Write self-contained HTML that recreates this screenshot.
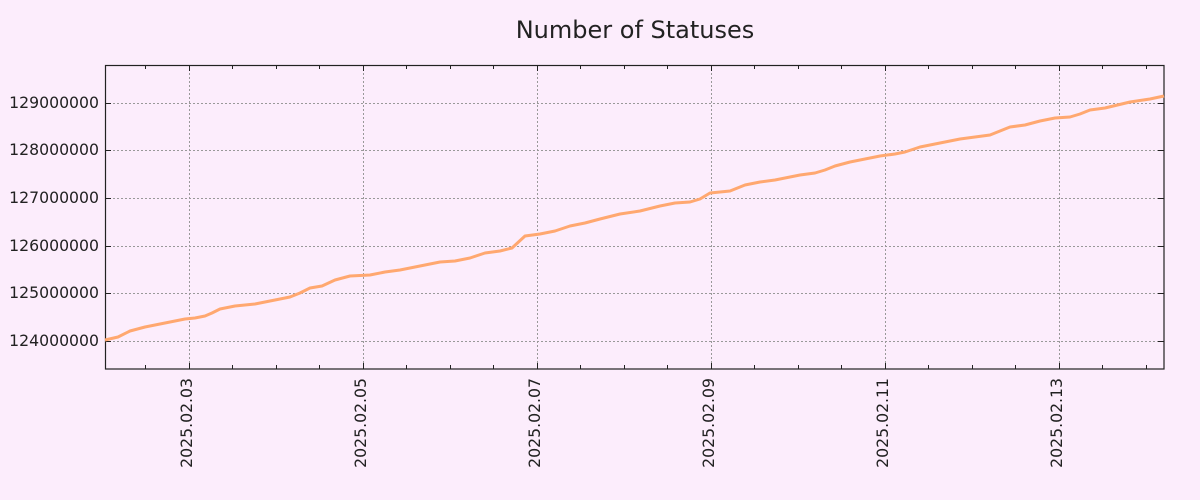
<!DOCTYPE html>
<html><head><meta charset="utf-8"><style>
body{margin:0;background:#fcedfc;}
svg{display:block;font-family:"DejaVu Sans","Liberation Sans",sans-serif;}
</style></head><body>
<svg width="1200" height="500" viewBox="0 0 1200 500">
<rect width="1200" height="500" fill="#fcedfc"/>
<text x="635" y="38" text-anchor="middle" font-size="24" fill="#222">Number of Statuses</text>
<g stroke="#999" stroke-dasharray="2,2" stroke-width="1">
<line x1="105" x2="1164" y1="103.5" y2="103.5"/>
<line x1="105" x2="1164" y1="150.5" y2="150.5"/>
<line x1="105" x2="1164" y1="198.5" y2="198.5"/>
<line x1="105" x2="1164" y1="246.5" y2="246.5"/>
<line x1="105" x2="1164" y1="293.5" y2="293.5"/>
<line x1="105" x2="1164" y1="341.5" y2="341.5"/>
<line x1="189.5" x2="189.5" y1="65" y2="369"/>
<line x1="363.5" x2="363.5" y1="65" y2="369"/>
<line x1="537.5" x2="537.5" y1="65" y2="369"/>
<line x1="711.5" x2="711.5" y1="65" y2="369"/>
<line x1="885.5" x2="885.5" y1="65" y2="369"/>
<line x1="1059.5" x2="1059.5" y1="65" y2="369"/>
</g>
<g stroke="#222" stroke-width="1">
<path d="M145.5 65v4M145.5 369v-4M232.5 65v4M232.5 369v-4M276.5 65v4M276.5 369v-4M319.5 65v4M319.5 369v-4M406.5 65v4M406.5 369v-4M450.5 65v4M450.5 369v-4M493.5 65v4M493.5 369v-4M580.5 65v4M580.5 369v-4M624.5 65v4M624.5 369v-4M667.5 65v4M667.5 369v-4M754.5 65v4M754.5 369v-4M798.5 65v4M798.5 369v-4M841.5 65v4M841.5 369v-4M928.5 65v4M928.5 369v-4M972.5 65v4M972.5 369v-4M1015.5 65v4M1015.5 369v-4M1102.5 65v4M1102.5 369v-4M1146.5 65v4M1146.5 369v-4"/>
<path d="M189.5 65v6M189.5 369v-6M363.5 65v6M363.5 369v-6M537.5 65v6M537.5 369v-6M711.5 65v6M711.5 369v-6M885.5 65v6M885.5 369v-6M1059.5 65v6M1059.5 369v-6"/>
<path d="M105 103.5h6M105 150.5h6M105 198.5h6M105 246.5h6M105 293.5h6M105 341.5h6M1164 103.5h-6M1164 150.5h-6M1164 198.5h-6M1164 246.5h-6M1164 293.5h-6M1164 341.5h-6"/>
</g>
<rect x="105.5" y="65.5" width="1058.5" height="303.5" fill="none" stroke="#222" stroke-width="1.2"/>
<g font-size="15.7" fill="#222" text-anchor="end">
<text x="99" y="108">129000000</text>
<text x="99" y="155">128000000</text>
<text x="99" y="203">127000000</text>
<text x="99" y="251">126000000</text>
<text x="99" y="298">125000000</text>
<text x="99" y="346">124000000</text>
</g>
<g font-size="15.7" fill="#222" text-anchor="end">
<text transform="translate(192,378) rotate(-90)">2025.02.03</text>
<text transform="translate(366,378) rotate(-90)">2025.02.05</text>
<text transform="translate(540,378) rotate(-90)">2025.02.07</text>
<text transform="translate(714,378) rotate(-90)">2025.02.09</text>
<text transform="translate(888,378) rotate(-90)">2025.02.11</text>
<text transform="translate(1062,378) rotate(-90)">2025.02.13</text>
</g>
<polyline fill="none" stroke="#ffa870" stroke-width="3" stroke-linejoin="round" points="105,340 118,337 130,331 145,327 160,324 175,321 185,319 195,318 205,316 212,313 220,309 235,306 255,304 270,301 290,297 300,293 310,288 322,286 335,280 350,276 370,275 385,272 400,270 420,266 440,262 455,261 470,258 485,253 500,251 512,248 525,236 540,234 555,231 570,226 585,223 600,219 620,214 640,211 660,206 675,203 690,202 700,199 710,193 730,191 745,185 760,182 775,180 790,177 800,175 815,173 825,170 835,166 850,162 865,159 880,156 895,154 905,152 920,147 940,143 960,139 975,137 990,135 1000,131 1010,127 1025,125 1040,121 1055,118 1070,117 1080,114 1090,110 1105,108 1130,102 1150,99 1164,96"/>
</svg>
</body></html>
